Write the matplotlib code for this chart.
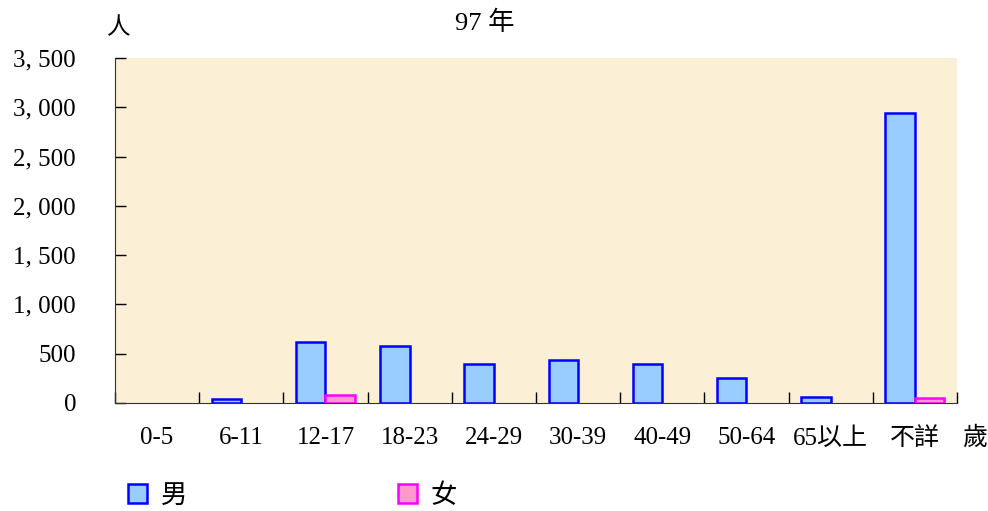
import matplotlib.pyplot as plt
import numpy as np

edades = ['0-5', '6-11', '12-17', '18-23', '24-29', '30-39', '40-49', '50-64', '65以上', '不詳']
hombres = [0, 41, 616, 578, 396, 436, 396, 254, 58, 2939]
mujeres = [0, 0, 78, 0, 0, 0, 0, 0, 0, 55]
yticks = [0, 500, 1000, 1500, 2000, 2500, 3000, 3500]

fuente = ['Liberation Serif', 'Noto Sans CJK TC', 'DejaVu Sans']
plt.rcParams['font.family'] = fuente

fig = plt.figure(figsize=(9.88, 5.11), dpi=100)
ax = fig.add_axes([0.1164, 0.2114, 0.8522, 0.6751])
ax.set_facecolor('#FBEFD6')

x = np.arange(len(edades))
w = 0.35
# las barras con valor 0 no se dibujan
h = np.array(hombres, dtype=float)
m = np.array(mujeres, dtype=float)
ih = h > 0
im = m > 0
b1 = ax.bar(x[ih] - w / 2, h[ih], w, color='#99CCFF', edgecolor='#0000FF', linewidth=1.8, label='男')
b2 = ax.bar(x[im] + w / 2, m[im], w, color='#FF99CC', edgecolor='#FF00FF', linewidth=1.8, label='女')

ax.set_xlim(-0.5, len(edades) - 0.5)
ax.set_ylim(0, 3500)
ax.set_yticks(yticks)
ax.set_yticklabels(['{:,}'.format(v).replace(',', ', ') for v in yticks], fontsize=18)
ax.set_xticks(np.arange(len(edades) + 1) - 0.5)
ax.set_xticklabels([])
ax.tick_params(axis='x', direction='in', length=8, width=1)
ax.tick_params(axis='y', direction='in', length=8, width=1, pad=28)
for i, e in enumerate(edades):
    ax.text(i, -360, e, ha='center', va='center', fontsize=18)

ax.spines['top'].set_visible(False)
ax.spines['right'].set_visible(False)
ax.spines['left'].set_color('#333333')
ax.spines['bottom'].set_color('#333333')

fig.text(0.491, 0.955, '97 年', ha='center', va='center', fontsize=19)
fig.text(0.120, 0.945, '人', ha='center', va='center', fontsize=17)
fig.text(0.986, 0.143, '歲', ha='center', va='center', fontsize=18)

fig.legend(handles=[b1, b2], loc='center left', bbox_to_anchor=(0.106, 0.03), ncol=2,
           frameon=False, fontsize=19, handlelength=0.72, handleheight=0.72,
           handletextpad=0.5, columnspacing=8.0)

fig.savefig('out.png', dpi=100)
